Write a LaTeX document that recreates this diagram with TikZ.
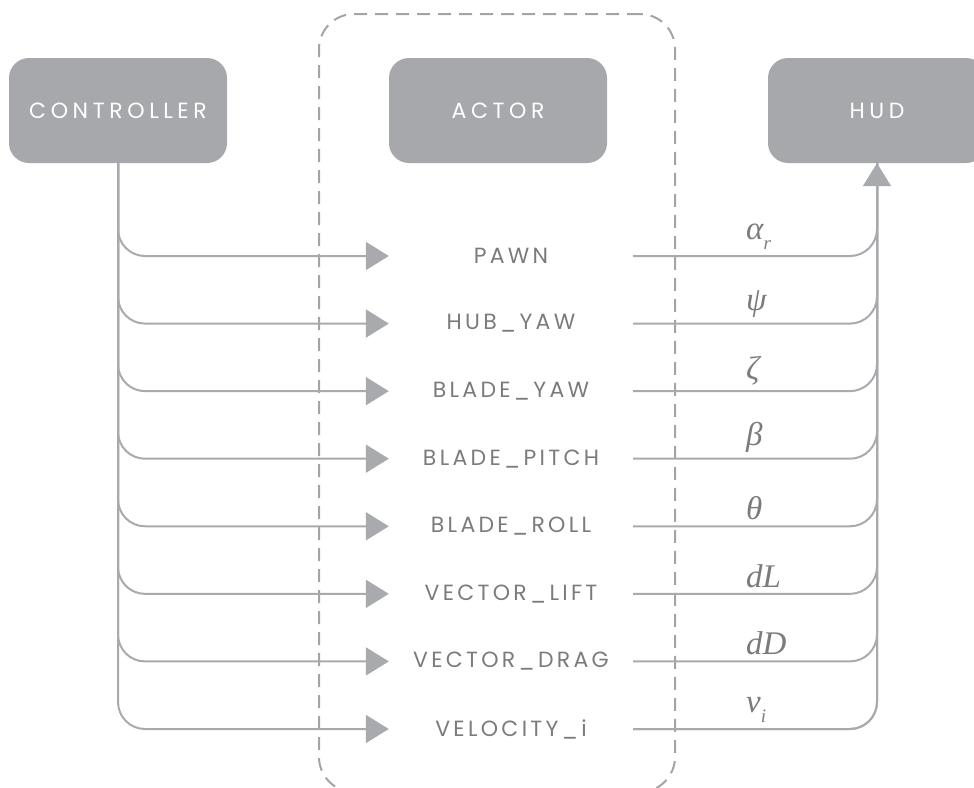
\documentclass[tikz,border=0pt]{standalone}
\usepackage{fontspec}
\newfontfamily\lblfont[LetterSpace=15]{Poppins}
\newfontfamily\boxfont[LetterSpace=21]{Poppins}
\newfontfamily\grkfont{Liberation Serif}
\usetikzlibrary{arrows.meta}
\definecolor{boxgray}{HTML}{A7A8AB}
\definecolor{linegray}{HTML}{A9AAAD}
\definecolor{txtgray}{HTML}{7A7B7E}
\definecolor{dashgray}{HTML}{A3A4A7}
\newcommand{\lowsub}[1]{\raisebox{-0.3em}{\fontsize{19}{19}\selectfont #1}}
\begin{document}
\begin{tikzpicture}[x=1pt,y=-1pt,
  box/.style={fill=boxgray, rounded corners=20pt, minimum width=218pt, minimum height=105pt, text=white, inner sep=0pt, font=\boxfont\fontsize{22}{22}\selectfont},
  item/.style={minimum width=244pt, minimum height=30pt, inner sep=0pt, text=txtgray, font=\lblfont\fontsize{22}{22}\selectfont},
  lab/.style={anchor=south west, inner sep=0pt, text=txtgray, font=\grkfont\itshape\fontsize{33}{33}\selectfont},
  conn/.style={draw=linegray, line width=2pt, rounded corners=27pt},
  tip/.style={-{Triangle[length=23pt,width=28pt]}},
  group/.style={draw=dashgray, line width=2pt, dash pattern=on 13pt off 8pt, rounded corners=35pt, minimum width=356pt, minimum height=778pt, inner sep=0pt}
]
\useasboundingbox (0,0) rectangle (974,787);
\node[group] (grp) at (497,403) {};
\node[box] (ctrl) at (118,110.5) {CONTROLLER};
\node[box] (actor) at (498,110.5) {ACTOR};
\node[box] (hud) at (877,110.5) {HUD};
\foreach \n/\t/\l [count=\k from 0] in {i1/PAWN/{α\lowsub{r}}, i2/HUB\_YAW/{ψ}, i3/BLADE\_YAW/{ζ}, i4/BLADE\_PITCH/{β}, i5/BLADE\_ROLL/{θ}, i6/VECTOR\_LIFT/{dL}, i7/VECTOR\_DRAG/{dD}, i8/VELOCITY\_i/{ν\lowsub{i}}}{
  \pgfmathsetmacro{\yy}{256+67.57*\k}
  \node[item] (\n) at (511,\yy) {\t};
  \node[lab] (l\n) at (746,\yy-6) {\l};
  \draw[conn, tip] (ctrl.south) |- (\n.west);
  \draw[conn] (\n.east) -| (hud.south);
}
\draw[conn, tip] (i8.east) -| (hud.south);
\end{tikzpicture}
\end{document}
